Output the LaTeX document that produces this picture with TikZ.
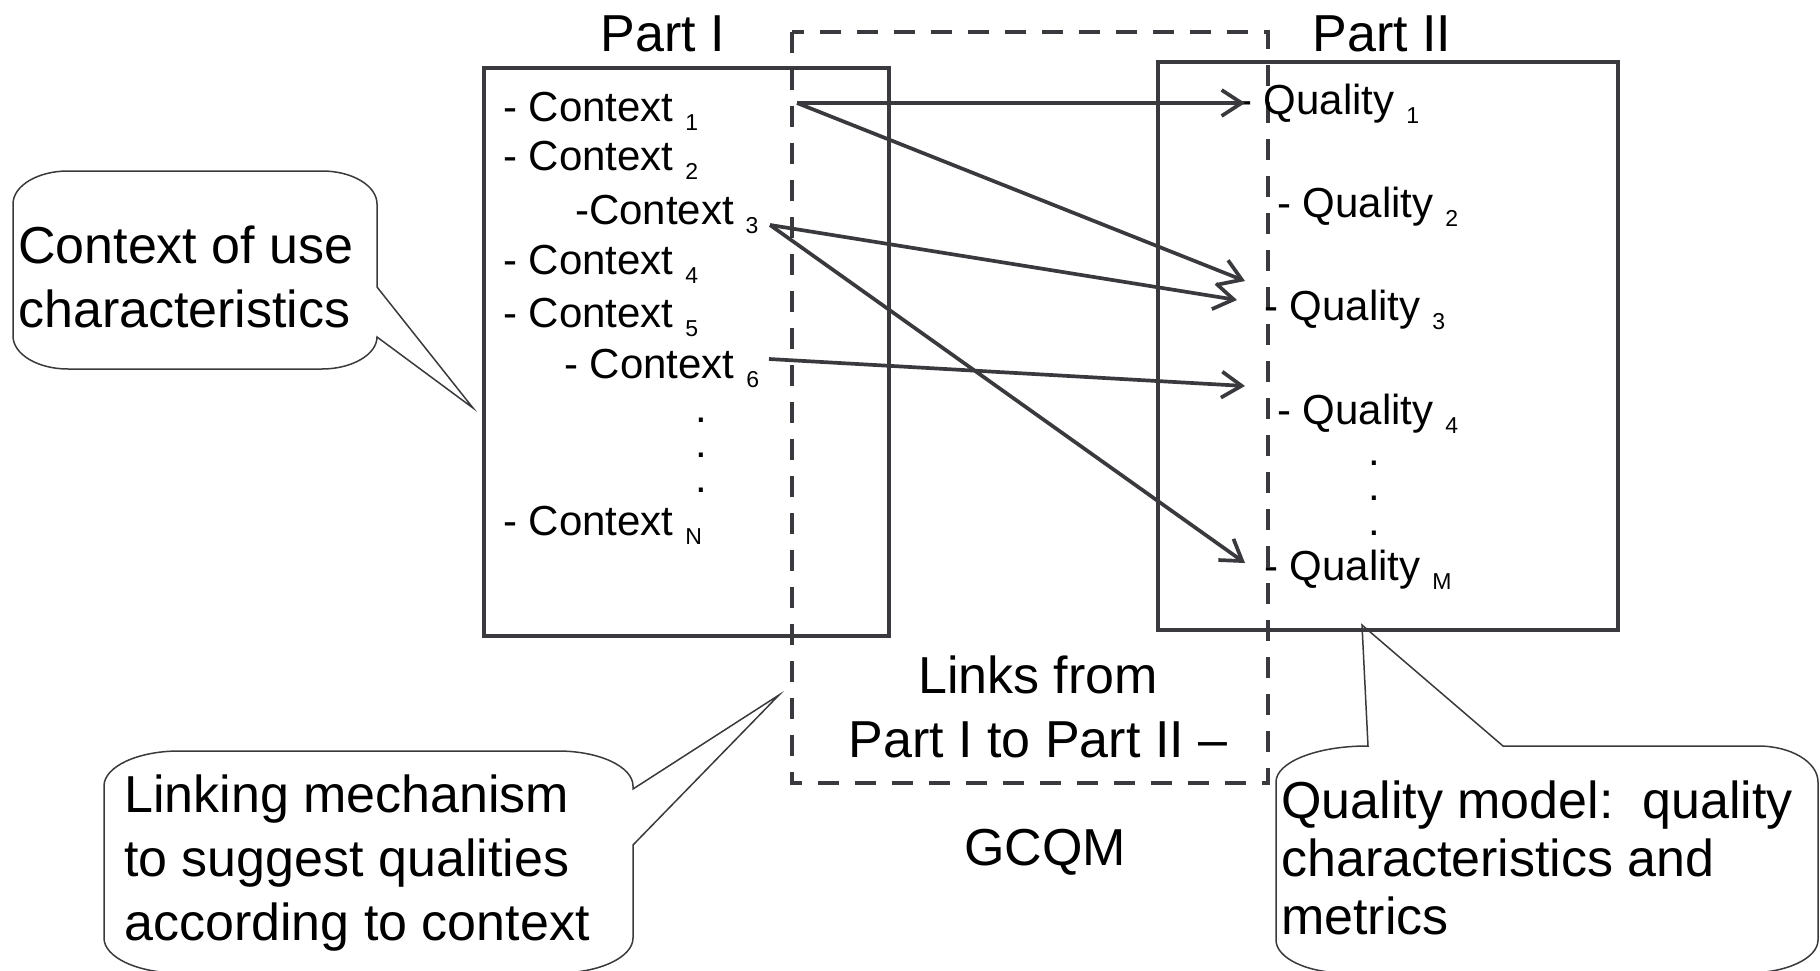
\documentclass[tikz,border=0pt]{standalone}
\usepackage{fontspec}
\setmainfont{Liberation Sans}
\usetikzlibrary{arrows.meta}
\definecolor{dk}{RGB}{58,58,62}
\newcommand{\sbx}[1]{\raisebox{-9pt}{\fontsize{23}{23}\selectfont #1}}
\newcommand{\linesL}[1]{\begin{tabular}[t]{@{}l@{}}#1\end{tabular}}
\newcommand{\linesC}[1]{\begin{tabular}[t]{@{}c@{}}#1\end{tabular}}
\tikzset{
  partbox/.style={draw=dk, line width=4pt, inner sep=0pt, anchor=north west},
  dbox/.style={draw=dk, line width=4pt, dash pattern=on 21pt off 16pt},
  link/.style={draw=dk, line width=3.7pt, -{Straight Barb[length=20pt,width=26pt]}},
  callout/.style={draw=dk, line width=1.5pt, fill=white},
  item/.style={anchor=base west, inner sep=0pt, font=\fontsize{42}{42}\selectfont},
  dotn/.style={anchor=base, inner sep=0pt, text height=6pt, text depth=0pt, font=\fontsize{42}{42}\selectfont},
  big/.style={inner sep=0pt, font=\fontsize{52}{64}\selectfont},
}
\begin{document}
\begin{tikzpicture}[x=1pt,y=-1pt]
\useasboundingbox (0,0) rectangle (1820,971);
\clip (0,0) rectangle (1820,971);

% callouts
\draw[callout] (68,171) -- (322,171) .. controls (352.4,171) and (377,185.8) .. (377,204)
  -- (377,287) -- (473,408) -- (377,337)
  .. controls (377,354.2) and (352.4,369) .. (322,369) -- (68,369)
  .. controls (37.6,369) and (13,354.2) .. (13,336) -- (13,204)
  .. controls (13,185.8) and (37.6,171) .. (68,171) -- cycle;
\draw[callout] (179,751) -- (558,751) .. controls (599.4,751) and (633,766.7) .. (633,786)
  -- (633,789) -- (779,695) -- (633,845) -- (633,938)
  .. controls (633,957.3) and (599.4,973) .. (558,973) -- (179,973)
  .. controls (137.6,973) and (104,957.3) .. (104,938) -- (104,786)
  .. controls (104,766.7) and (137.6,751) .. (179,751) -- cycle;
\draw[callout] (1368,746) -- (1362,625) -- (1503,746) -- (1758,746)
  .. controls (1791.1,746) and (1818,762.1) .. (1818,782) -- (1818,940)
  .. controls (1818,958.2) and (1786.6,973) .. (1748,973) -- (1346,973)
  .. controls (1307.4,973) and (1276,958.2) .. (1276,940) -- (1276,782)
  .. controls (1276,762.1) and (1316.8,746) .. (1367,746) -- cycle;

% boxes
\node[partbox, minimum width=405pt, minimum height=568pt] (p1) at (482,66) {};
\node[partbox, minimum width=460pt, minimum height=568pt] (p2) at (1156,60) {};
\draw[dbox] (792,32) rectangle (1268,783);

% titles
\node[big, anchor=base] (t1) at (663,52) {Part I};
\node[big, anchor=base] (t2) at (1382,52) {Part II};

% context items
\node[item] (c1) at (503,122) {- Context \sbx{1}};
\node[item] (c2) at (503,171) {- Context \sbx{2}};
\node[item] (c3) at (575,224) {-Context \sbx{3}};
\node[item] (c4) at (503,274) {- Context \sbx{4}};
\node[item] (c5) at (503,327) {- Context \sbx{5}};
\node[item] (c6) at (564,378) {- Context \sbx{6}};
\node[dotn] (cd1) at (701,422) {.};
\node[dotn] (cd2) at (701,457) {.};
\node[dotn] (cd3) at (701,492) {.};
\node[item] (cN) at (503,535) {- Context \sbx{N}};

% quality items
\node[item] (q1) at (1238,115) {- Quality \sbx{1}};
\node[item] (q2) at (1277,217) {- Quality \sbx{2}};
\node[item] (q3) at (1264,320) {- Quality \sbx{3}};
\node[item] (q4) at (1277,424) {- Quality \sbx{4}};
\node[dotn] (qd1) at (1374,465) {.};
\node[dotn] (qd2) at (1374,500) {.};
\node[dotn] (qd3) at (1374,535) {.};
\node[item] (qM) at (1264,580) {- Quality \sbx{M}};

% link end points
\coordinate (s1) at (797,103);
\coordinate (s3) at (770,225);
\coordinate (s6) at (769,359);
\coordinate (e1) at (1245,103);
\coordinate (e2) at (1245,281);
\coordinate (e3) at (1237,300);
\coordinate (e4) at (1245,386);
\coordinate (eM) at (1245,563);

\draw[link] (s1) -- (e1);
\draw[link] (s1) -- (e2);
\draw[link] (s3) -- (e3);
\draw[link] (s3) -- (eM);
\draw[link] (s6) -- (e4);

% texts
\node[big, anchor=base west] (cu) at (18,263) {\linesL{Context of use\\characteristics}};
\node[big, anchor=base] (lk) at (1038,693) {\linesC{Links from\\Part I to Part II –}};
\node[big, anchor=base] (gc) at (1045,865) {GCQM};
\node[big, anchor=base west] (lm) at (124,812) {\linesL{Linking mechanism\\to suggest qualities\\according to context}};
\node[big, anchor=base west, font=\fontsize{52}{58}\selectfont] (qm) at (1281,818) {\linesL{Quality model:\ \ quality\\characteristics and\\metrics}};
\end{tikzpicture}
\end{document}
